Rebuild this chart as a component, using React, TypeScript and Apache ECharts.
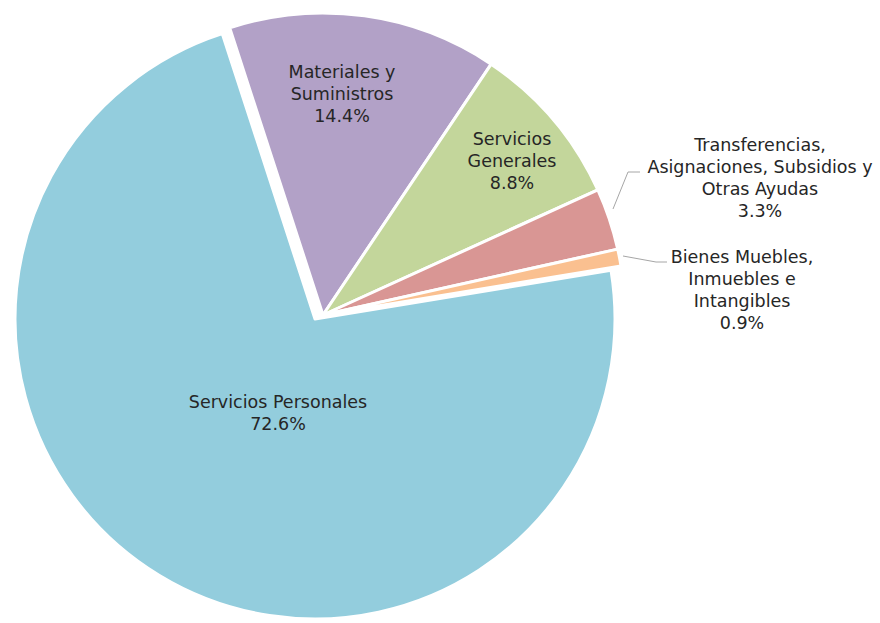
import React, { useEffect, useRef } from 'react';
import * as echarts from 'echarts';

// ---- data ----
const categories = [
  'Materiales y Suministros',
  'Servicios Generales',
  'Transferencias, Asignaciones, Subsidios y Otras Ayudas',
  'Bienes Muebles, Inmuebles e Intangibles',
  'Servicios Personales',
];
const labelTexts = [
  'Materiales y\nSuministros',
  'Servicios\nGenerales',
  'Transferencias,\nAsignaciones, Subsidios y\nOtras Ayudas',
  'Bienes Muebles,\nInmuebles e\nIntangibles',
  'Servicios Personales',
];
const values = [14.4, 8.8, 3.3, 0.9, 72.6];

// ---- styling / layout ----
const colors = ['#B2A1C7', '#C3D69B', '#D99694', '#FAC090', '#93CDDD'];
const explodedIndex = 4;
const outsideLabels = [false, false, true, true, false];
const labelCenters = [
  [342, 94],
  [512, 161],
  [760, 178],
  [742, 290],
  [278, 413],
];
const leaderLines: (number[][] | null)[] = [
  null,
  null,
  [[613, 209], [628, 172], [640, 172]],
  [[623, 256], [656, 262], [667, 262]],
  null,
];
const START_ANGLE = 108;
const GROUP_CENTER = [323, 315];
const GROUP_RADIUS = 302;
const EXPLODED_CENTER = [315, 319];
const EXPLODED_RADIUS = 300;

const labelFont = {
  color: '#262626',
  fontFamily: 'DejaVu Sans',
  fontSize: 17.5,
  lineHeight: 22,
};

function makeSeries(visible: (i: number) => boolean, center: number[], radius: number) {
  return {
    type: 'pie',
    center,
    radius,
    startAngle: START_ANGLE,
    clockwise: true,
    avoidLabelOverlap: false,
    silent: true,
    emphasis: { disabled: true },
    data: values.map((v, i) => {
      const vis = visible(i);
      return {
        name: categories[i],
        value: v,
        itemStyle: vis
          ? { color: colors[i], borderColor: '#ffffff', borderWidth: 3 }
          : { color: 'rgba(0,0,0,0)', borderWidth: 0 },
        label: vis
          ? {
              show: true,
              position: outsideLabels[i] ? 'outside' : 'inside',
              formatter: () => `${labelTexts[i]}\n${v.toFixed(1)}%`,
              ...labelFont,
            }
          : { show: false },
        labelLine: {
          show: vis && outsideLabels[i],
          length: 15,
          length2: 12,
          smooth: false,
          lineStyle: { color: '#A6A6A6', width: 1 },
        },
      };
    }),
    labelLayout: (p: any) => {
      const i = p.dataIndex;
      if (!visible(i)) return {};
      const [x, y] = labelCenters[i];
      const out: any = { x, y, align: 'center', verticalAlign: 'middle' };
      if (leaderLines[i]) out.labelLinePoints = leaderLines[i];
      return out;
    },
  };
}

export default function App() {
  const ref = useRef<HTMLDivElement>(null);
  useEffect(() => {
    if (!ref.current) return;
    const chart = echarts.init(ref.current, undefined, { renderer: 'svg' });
    chart.setOption({
      animation: false,
      backgroundColor: '#ffffff',
      series: [
        makeSeries((i) => i !== explodedIndex, GROUP_CENTER, GROUP_RADIUS),
        makeSeries((i) => i === explodedIndex, EXPLODED_CENTER, EXPLODED_RADIUS),
      ],
    });
    return () => chart.dispose();
  }, []);
  return (
    <div
      ref={ref}
      style={{ position: 'fixed', left: 0, top: 0, width: 880, height: 623 }}
    />
  );
}
